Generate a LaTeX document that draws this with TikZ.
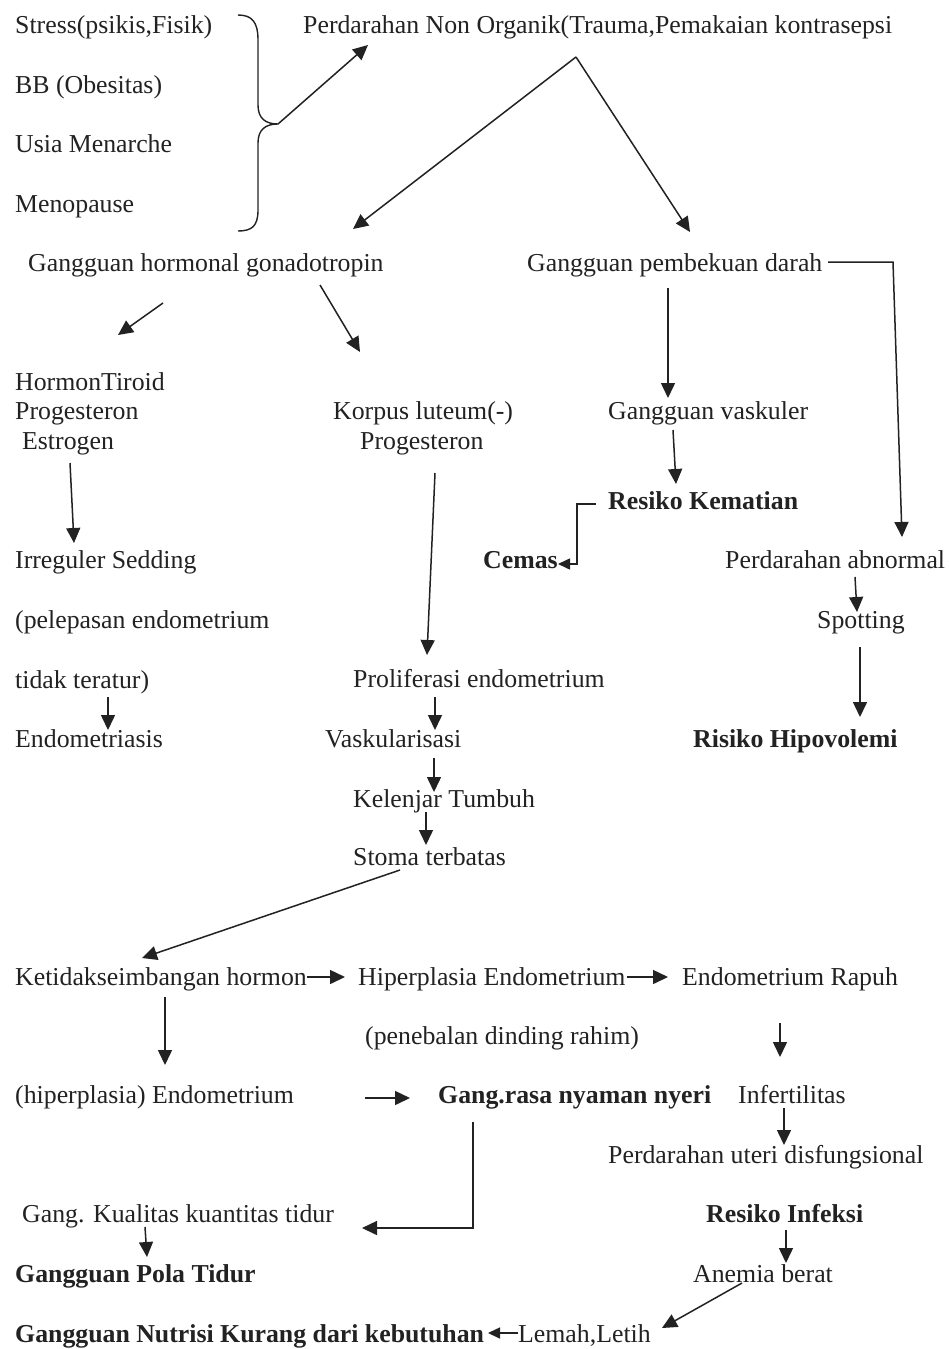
\documentclass[tikz,border=0pt]{standalone}
\usepackage{fontspec}
\setmainfont{Liberation Serif}
\usetikzlibrary{arrows.meta}
\definecolor{ink}{HTML}{222222}
\begin{document}
\begin{tikzpicture}[x=1pt,y=-1pt,
  lbl/.style={anchor=base west,inner sep=0pt,text=ink,font=\fontsize{25.8}{30}\selectfont},
  blbl/.style={lbl,font=\fontsize{25.8}{30}\selectfont\bfseries},
  arr/.style={draw=ink,line width=1.5pt,-{Triangle[length=15pt,width=14pt]}},
  sarr/.style={draw=ink,line width=1.5pt,-{Triangle[length=12pt,width=11pt]}},
  ln/.style={draw=ink,line width=1.4pt}]
\useasboundingbox (0,0) rectangle (949,1349);
\fill[white] (0,0) rectangle (949,1349);
% nodes
\node[lbl] (s1) at (15,33) {Stress(psikis,Fisik)};
\node[lbl] (s2) at (15,93) {BB (Obesitas)};
\node[lbl] (s3) at (15,152) {Usia Menarche};
\node[lbl] (s4) at (15,212) {Menopause};
\node[lbl] (pno) at (303,33) {Perdarahan Non Organik(Trauma,Pemakaian kontrasepsi};
\node[lbl] (ghg) at (28,271) {Gangguan hormonal gonadotropin};
\node[lbl] (gpd) at (527,271) {Gangguan pembekuan darah};
\node[lbl] (ht) at (15,390) {HormonTiroid};
\node[lbl] (pg1) at (15,419) {Progesteron};
\node[lbl] (es) at (22,449) {Estrogen};
\node[lbl] (kl) at (333,419) {Korpus luteum(-)};
\node[lbl] (pg2) at (360,449) {Progesteron};
\node[lbl] (gv) at (608,419) {Gangguan vaskuler};
\node[blbl] (rk) at (608,509) {Resiko Kematian};
\node[lbl] (is) at (15,568) {Irreguler Sedding};
\node[lbl] (pe) at (15,628) {(pelepasan endometrium};
\node[lbl] (tt) at (15,688) {tidak teratur)};
\node[lbl] (em) at (15,747) {Endometriasis};
\node[blbl] (ce) at (483,568) {Cemas};
\node[lbl] (pa) at (725,568) {Perdarahan abnormal};
\node[lbl] (sp) at (817,628) {Spotting};
\node[lbl] (pr) at (353,687) {Proliferasi endometrium};
\node[lbl] (va) at (325,747) {Vaskularisasi};
\node[blbl] (rh) at (693,747) {Risiko Hipovolemi};
\node[lbl] (kt) at (353,807) {Kelenjar Tumbuh};
\node[lbl] (st) at (353,865) {Stoma terbatas};
\node[lbl] (kh) at (15,985) {Ketidakseimbangan hormon};
\node[lbl] (he) at (358,985) {Hiperplasia Endometrium};
\node[lbl] (er) at (682,985) {Endometrium Rapuh};
\node[lbl] (pd) at (365,1044) {(penebalan dinding rahim)};
\node[lbl] (hp) at (15,1103) {(hiperplasia) Endometrium};
\node[blbl] (gr) at (438,1103) {Gang.rasa nyaman nyeri};
\node[lbl] (inf) at (738,1103) {Infertilitas};
\node[lbl] (pu) at (608,1163) {Perdarahan uteri disfungsional};
\node[lbl] (kq) at (22,1222) {Gang. Kualitas kuantitas tidur};
\node[blbl] (ri) at (706,1222) {Resiko Infeksi};
\node[blbl] (gpt) at (15,1282) {Gangguan Pola Tidur};
\node[lbl] (ab) at (693,1282) {Anemia berat};
\node[blbl] (gn) at (15,1342) {Gangguan Nutrisi Kurang dari kebutuhan};
\node[lbl] (ll) at (518,1342) {Lemah,Letih};
% brace
\coordinate (bt) at (278,124);
\draw[ln] (238,15) .. controls (252,15) and (258,22) .. (258,40) -- (258,105)
  .. controls (258,118) and (265,124) .. (bt)
  .. controls (265,124) and (258,130) .. (258,143) -- (258,210)
  .. controls (258,226) and (252,231) .. (238,231);
% connectors
\draw[arr] (bt) -- ([shift={(65,12)}]pno.base west);
\draw[arr] ([shift={(273,24)}]pno.base west) -- ([shift={(325,-42)}]ghg.base west);
\draw[arr] ([shift={(273,24)}]pno.base west) -- ([shift={(163,-39)}]gpd.base west);
\draw[arr] ([shift={(301,-9)}]gpd.base west) -- ([shift={(366,-9)}]gpd.base west) -- ([shift={(177,-31)}]pa.base west);
\draw[arr] ([shift={(141,17)}]gpd.base west) -- ([shift={(60,-21)}]gv.base west);
\draw[arr] ([shift={(65,11)}]gv.base west) -- ([shift={(68,-25)}]rk.base west);
\draw[sarr] ([shift={(-12,-5)}]rk.base west) -- ([shift={(-31,-5)}]rk.base west) -- ([shift={(-31,55)}]rk.base west) -- ([shift={(75,-4)}]ce.base west);
\draw[arr] ([shift={(130,9)}]pa.base west) -- ([shift={(40,-16)}]sp.base west);
\draw[arr] ([shift={(43,19)}]sp.base west) -- ([shift={(167,-30)}]rh.base west);
\draw[arr] ([shift={(135,32)}]ghg.base west) -- ([shift={(103,-55)}]ht.base west);
\draw[arr] ([shift={(292,14)}]ghg.base west) -- ([shift={(27,-67)}]kl.base west);
\draw[arr] ([shift={(48,14)}]es.base west) -- ([shift={(59,-25)}]is.base west);
\draw[arr] ([shift={(93,9)}]tt.base west) -- ([shift={(93,-17)}]em.base west);
\draw[arr] ([shift={(75,24)}]pg2.base west) -- ([shift={(74,-32)}]pr.base west);
\draw[arr] ([shift={(82,10)}]pr.base west) -- ([shift={(110,-17)}]va.base west);
\draw[arr] ([shift={(109,11)}]va.base west) -- ([shift={(81,-15)}]kt.base west);
\draw[arr] ([shift={(73,5)}]kt.base west) -- ([shift={(73,-20)}]st.base west);
\draw[arr] ([shift={(47,5)}]st.base west) -- ([shift={(127,-27)}]kh.base west);
\draw[arr] ([shift={(292,-8)}]kh.base west) -- ([shift={(-13,-8)}]he.base west);
\draw[arr] ([shift={(269,-8)}]he.base west) -- ([shift={(-14,-8)}]er.base west);
\draw[arr] ([shift={(150,12)}]kh.base west) -- ([shift={(150,-38)}]hp.base west);
\draw[arr] ([shift={(350,-5)}]hp.base west) -- ([shift={(-28,-5)}]gr.base west);
\draw[arr] ([shift={(98,38)}]er.base west) -- ([shift={(42,-46)}]inf.base west);
\draw[arr] ([shift={(46,5)}]inf.base west) -- ([shift={(176,-18)}]pu.base west);
\draw[arr] ([shift={(35,19)}]gr.base west) -- ([shift={(35,125)}]gr.base west) -- ([shift={(340,6)}]kq.base west);
\draw[arr] ([shift={(123,5)}]kq.base west) -- ([shift={(132,-25)}]gpt.base west);
\draw[arr] ([shift={(80,8)}]ri.base west) -- ([shift={(93,-19)}]ab.base west);
\draw[arr] ([shift={(49,1)}]ab.base west) -- ([shift={(144,-14)}]ll.base west);
\draw[sarr] ([shift={(0,-9)}]ll.base west) -- ([shift={(473,-9)}]gn.base west);
\end{tikzpicture}
\end{document}
